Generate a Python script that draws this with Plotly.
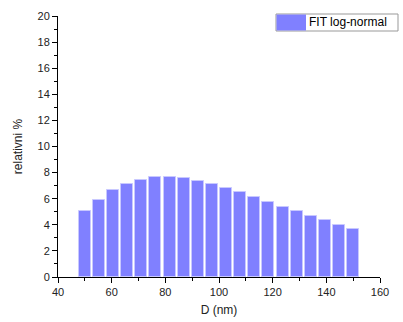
import plotly.graph_objects as go

d_nm = [50.0, 55.3, 60.5, 65.8, 71.0, 76.3, 81.6, 86.8, 92.1, 97.4,
        102.6, 107.9, 113.2, 118.4, 123.7, 128.9, 134.2, 139.5, 144.7, 150.0]
rel_pct = [5.09, 5.93, 6.65, 7.13, 7.46, 7.64, 7.64, 7.57, 7.39, 7.13,
           6.80, 6.50, 6.14, 5.76, 5.40, 5.04, 4.66, 4.33, 4.00, 3.69]
legend_label = "FIT log-normal"

bar_color = "#8080ff"
font_family = "Liberation Sans, Arial"

fig = go.Figure()
fig.add_trace(go.Bar(
    x=d_nm, y=rel_pct, width=4.5,
    marker=dict(color=bar_color, line=dict(color="#c8c8ff", width=1)),
    name=legend_label, showlegend=False,
))

axis_common = dict(
    showline=True, linecolor="black", linewidth=1,
    ticks="outside", ticklen=5, tickcolor="black", tickwidth=1,
    showgrid=False, zeroline=False, automargin=False,
    tickfont=dict(family=font_family, size=11, color="#222"),
    minor=dict(ticks="outside", ticklen=3, tickcolor="black", tickwidth=1, showgrid=False),
)

fig.update_xaxes(range=[40, 160], tickvals=[40, 60, 80, 100, 120, 140, 160],
                 minor_tickvals=[50, 70, 90, 110, 130, 150],
                 title=dict(text="D (nm)", font=dict(family=font_family, size=12, color="#222"), standoff=8),
                 **axis_common)
fig.update_yaxes(range=[0, 20], dtick=2, minor_dtick=1,
                 title=dict(text="relativni %", font=dict(family=font_family, size=12, color="#222"), standoff=12),
                 **axis_common)

L, R, T, B = 58, 23, 16, 45
pw, ph = 403 - L - R, 322 - T - B

def px(x):
    return (x - L) / pw

def py(y):
    return (322 - B - y) / ph

# legend box drawn manually to reproduce the wide swatch
fig.add_shape(type="rect", xref="paper", yref="paper",
              x0=px(276), x1=px(398), y0=py(31), y1=py(14),
              line=dict(color="#999", width=1), fillcolor="white")
fig.add_shape(type="rect", xref="paper", yref="paper",
              x0=px(276.5), x1=px(306), y0=py(30.5), y1=py(14.5),
              line=dict(width=0), fillcolor=bar_color)
fig.add_annotation(xref="paper", yref="paper", x=px(307), y=py(22.5),
                   text=legend_label, showarrow=False, xanchor="left", yanchor="middle",
                   font=dict(family=font_family, size=12, color="black"))

fig.update_layout(
    width=403, height=322,
    margin=dict(l=L, r=R, t=T, b=B),
    paper_bgcolor="white", plot_bgcolor="white",
    bargap=0,
)

fig.write_html("out.html", config={"displayModeBar": False},
               post_script="document.body.style.margin='0';document.body.style.overflow='hidden';")
